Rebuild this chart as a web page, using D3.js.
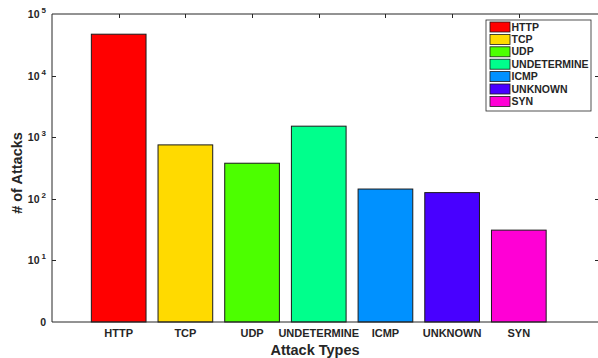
<!DOCTYPE html>
<html>
<head>
<meta charset="utf-8">
<script src="https://cdn.jsdelivr.net/npm/d3@7"></script>
<style>
  body { margin: 0; background: #fff; }
  text { font-family: "Liberation Sans", Arial, sans-serif; font-weight: bold; fill: #262626; }
</style>
</head>
<body>
<svg id="chart" width="598" height="358"></svg>
<script>
// data
var categories = ['HTTP', 'TCP', 'UDP', 'UNDETERMINE', 'ICMP', 'UNKNOWN', 'SYN'];
var attacks = [47000, 750, 378, 1510, 144, 126, 31];
var colors = ['#ff0000', '#ffda00', '#4cff00', '#00ff8c', '#0091ff', '#4800ff', '#ff00d5'];
var yTickValues = [1, 10, 100, 1000, 10000, 100000];
var yTickExp = ['0', '1', '2', '3', '4', '5'];

var svg = d3.select('#chart');
var plotLeft = 52, plotRight = 600, plotTop = 14, plotBottom = 322;
var axisColor = '#262626';

var x = d3.scaleLinear().domain([0, 8]).range([plotLeft, 585.5]);
var y = d3.scaleLog().domain([1, 100000]).range([plotBottom, plotTop]);
var barWidth = (x(1) - x(0)) * 0.82;

// bars
svg.selectAll('rect.bar')
  .data(attacks)
  .enter().append('rect')
  .attr('class', 'bar')
  .attr('x', function(d, i) { return x(i + 1) - barWidth / 2; })
  .attr('y', function(d) { return y(d); })
  .attr('width', barWidth)
  .attr('height', function(d) { return plotBottom - y(d); })
  .attr('fill', function(d, i) { return colors[i]; })
  .attr('stroke', '#1a1a1a')
  .attr('stroke-width', 1);

// frame lines (left, bottom, top)
svg.append('line').attr('x1', plotLeft).attr('x2', plotLeft).attr('y1', plotTop).attr('y2', plotBottom)
  .attr('stroke', axisColor).attr('stroke-width', 1);
svg.append('line').attr('x1', plotLeft).attr('x2', plotRight).attr('y1', plotBottom).attr('y2', plotBottom)
  .attr('stroke', axisColor).attr('stroke-width', 1);
svg.append('line').attr('x1', plotLeft).attr('x2', plotRight).attr('y1', plotTop).attr('y2', plotTop)
  .attr('stroke', axisColor).attr('stroke-width', 1);

// y ticks, inside on both sides
yTickValues.forEach(function(v, i) {
  var yy = Math.round(y(v)) + 0.5;
  if (i > 0 && i < yTickValues.length - 1) {
    svg.append('line').attr('x1', plotLeft).attr('x2', plotLeft + 4).attr('y1', yy).attr('y2', yy)
      .attr('stroke', axisColor);
    svg.append('line').attr('x1', plotRight - 5).attr('x2', plotRight).attr('y1', yy).attr('y2', yy)
      .attr('stroke', axisColor);
  }
  var t = svg.append('text')
    .attr('x', 46)
    .attr('y', y(v) + 4)
    .attr('text-anchor', 'end')
    .attr('font-size', 10.5);
  if (i == 0) {
    t.text('0');
  } else {
    t.append('tspan').text('10');
    t.append('tspan').attr('dx', 2).attr('dy', -5).attr('font-size', 8).text(yTickExp[i]);
  }
});

// top ticks at category positions
categories.forEach(function(c, i) {
  var xx = Math.round(x(i + 1)) + 0.5;
  svg.append('line').attr('x1', xx).attr('x2', xx).attr('y1', plotTop).attr('y2', plotTop + 4)
    .attr('stroke', axisColor);
  svg.append('text')
    .attr('x', x(i + 1))
    .attr('y', 337)
    .attr('text-anchor', 'middle')
    .attr('font-size', 11)
    .text(c);
});

// axis labels
svg.append('text')
  .attr('x', 315)
  .attr('y', 355)
  .attr('text-anchor', 'middle')
  .attr('font-size', 14.5)
  .text('Attack Types');

svg.append('text')
  .attr('transform', 'translate(22,173) rotate(-90)')
  .attr('text-anchor', 'middle')
  .attr('font-size', 14.5)
  .text('# of Attacks');

// legend
var lg = svg.append('g').attr('transform', 'translate(486,20)');
lg.append('rect').attr('x', 0).attr('y', 0).attr('width', 105).attr('height', 91)
  .attr('fill', '#fff').attr('stroke', axisColor).attr('stroke-width', 0.8);
categories.forEach(function(c, i) {
  var yy = 6.5 + i * 12.4;
  lg.append('rect')
    .attr('x', 4).attr('y', yy - 5 + 0.5)
    .attr('width', 20).attr('height', 10)
    .attr('fill', colors[i])
    .attr('stroke', '#1a1a1a').attr('stroke-width', 0.8);
  lg.append('text')
    .attr('x', 25.5).attr('y', yy + 4)
    .attr('font-size', 10.5)
    .text(c);
});
</script>
</body>
</html>
